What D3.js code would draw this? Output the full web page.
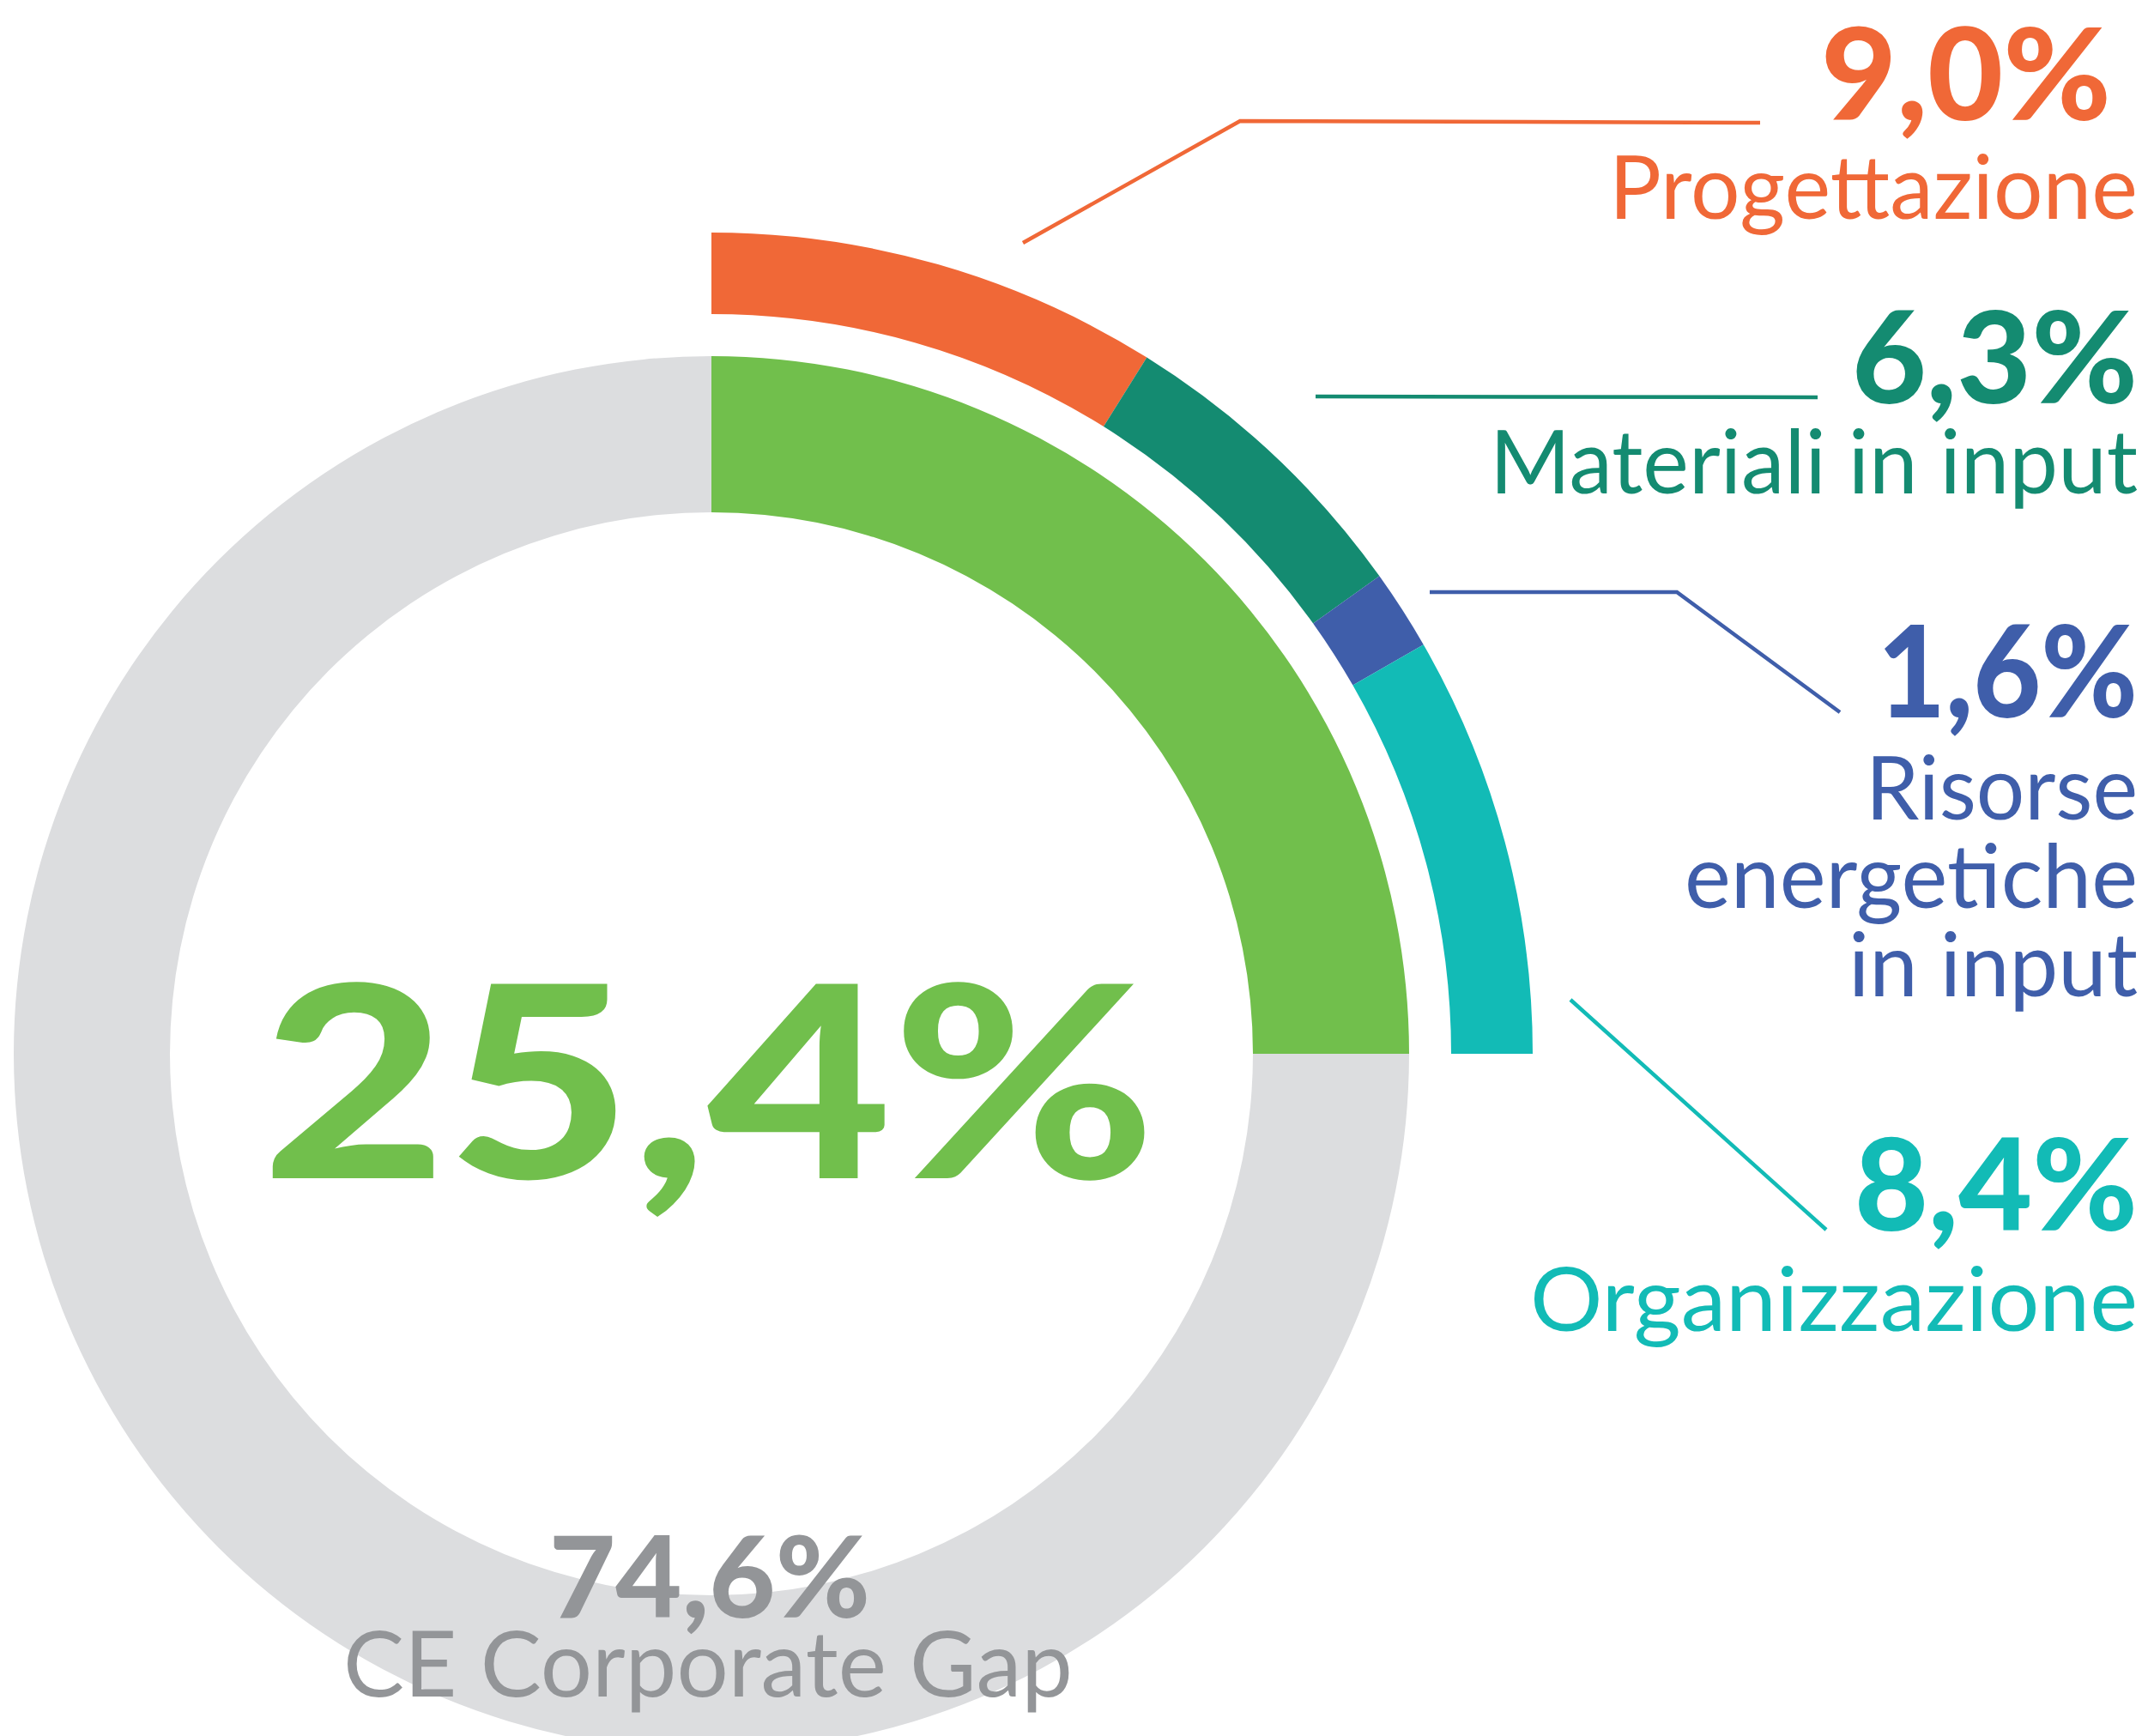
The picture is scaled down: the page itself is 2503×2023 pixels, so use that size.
<!DOCTYPE html>
<html>
<head>
<meta charset="utf-8">
<script src="https://cdn.jsdelivr.net/npm/d3@7"></script>
<style>
  html, body { margin: 0; padding: 0; background: #ffffff; }
  svg { display: block; }
</style>
</head>
<body>
<script>
// ---------- DATA ----------
const categories = ["Progettazione", "Materiali in input", "Risorse energetiche in input", "Organizzazione"];
const categoryValues = [9.0, 6.3, 1.6, 8.4];
const categoryColors = ["#F06837", "#148B71", "#3F5EAA", "#12BBB6"];
const totalValue = 25.4;          // CE corporate score
const gapValue = 74.6;            // CE corporate gap
const gapLabel = "CE Corporate Gap";
const totalColor = "#71BF4C";
const gapColor = "#DCDDDF";
const gapTextColor = "#939598";

// ---------- LAYOUT ----------
const W = 2503, H = 2023;
const cx = 829, cy = 1228;
const innerR0 = 631, innerR1 = 813;   // main ring
const outerR0 = 862, outerR1 = 957;   // breakdown ring

// label layout for each category (right aligned block)
const labelLayout = [
  { numX: 2460, numY: 140, numW: 338, lines: [{ y: 255, w: 616 }],
    leader: [[363, -945], [616, -1087], [1222, -1085]] },
  { numX: 2491, numY: 470, numW: 333, lines: [{ y: 575, w: 755 }],
    leader: [[704, -766], [1289, -765]] },
  { numX: 2491, numY: 836, numW: 303, lines: [{ y: 955, w: 317 }, { y: 1058, w: 528 }, { y: 1161, w: 337 }],
    leader: [[837, -538], [1125, -538], [1315, -398]] },
  { numX: 2491, numY: 1434, numW: 330, lines: [{ y: 1551, w: 708 }],
    leader: [[1001, -63], [1299, 205]] }
];
const labelLines = [["Progettazione"], ["Materiali in input"], ["Risorse", "energetiche", "in input"], ["Organizzazione"]];

const itLocale = d3.formatLocale({ decimal: ",", thousands: ".", grouping: [3], currency: ["", " €"] });
const fmt = v => itLocale.format(".1f")(v) + "%";

const svg = d3.select("body").append("svg")
  .attr("width", W).attr("height", H)
  .attr("viewBox", `0 0 ${W} ${H}`);

const g = svg.append("g").attr("transform", `translate(${cx},${cy})`);

// angle scale: highlighted share occupies the first quarter
const angle = d3.scaleLinear().domain([0, totalValue]).range([0, Math.PI / 2]);

const innerArc = d3.arc().innerRadius(innerR0).outerRadius(innerR1);

// gap (gray) ring
g.append("path")
  .attr("d", innerArc({ startAngle: angle(totalValue), endAngle: 2 * Math.PI }))
  .attr("fill", gapColor);

// total (green)
g.append("path")
  .attr("d", innerArc({ startAngle: angle(0), endAngle: angle(totalValue) }))
  .attr("fill", totalColor);

// breakdown ring
const pie = d3.pie().sort(null).value(d => d).startAngle(0).endAngle(angle(totalValue));
const outerArc = d3.arc().innerRadius(outerR0).outerRadius(outerR1);
g.selectAll("path.seg")
  .data(pie(categoryValues))
  .join("path")
  .attr("class", "seg")
  .attr("d", outerArc)
  .attr("fill", (d, i) => categoryColors[i]);

// leader lines
const line = d3.line();
g.selectAll("path.leader")
  .data(labelLayout)
  .join("path")
  .attr("class", "leader")
  .attr("d", d => line(d.leader))
  .attr("fill", "none")
  .attr("stroke", (d, i) => categoryColors[i])
  .attr("stroke-width", 4.5);

// category labels
categoryValues.forEach((v, i) => {
  const L = labelLayout[i];
  svg.append("text")
    .attr("x", L.numX).attr("y", L.numY)
    .attr("text-anchor", "end")
    .attr("font-family", "Lato, 'Noto Sans', sans-serif")
    .attr("font-weight", 900)
    .attr("font-size", 148)
    .attr("textLength", L.numW)
    .attr("lengthAdjust", "spacingAndGlyphs")
    .attr("fill", categoryColors[i])
    .text(fmt(v));
  labelLines[i].forEach((t, j) => {
    svg.append("text")
      .attr("x", 2491).attr("y", L.lines[j].y)
      .attr("text-anchor", "end")
      .attr("font-family", "Lato, 'Noto Sans', sans-serif")
      .attr("font-weight", 400)
      .attr("font-size", 103)
      .attr("textLength", L.lines[j].w)
      .attr("lengthAdjust", "spacingAndGlyphs")
      .attr("fill", categoryColors[i])
      .text(t);
  });
});

// central total
svg.append("text")
  .attr("x", 305).attr("y", 1373)
  .attr("font-family", "Lato, 'Noto Sans', sans-serif")
  .attr("font-weight", 900)
  .attr("font-size", 312)
  .attr("textLength", 1042)
  .attr("lengthAdjust", "spacingAndGlyphs")
  .attr("fill", totalColor)
  .text(fmt(totalValue));

// gap labels
svg.append("text")
  .attr("x", 640).attr("y", 1885)
  .attr("font-family", "Lato, 'Noto Sans', sans-serif")
  .attr("font-weight", 900)
  .attr("font-size", 132)
  .attr("textLength", 374)
  .attr("lengthAdjust", "spacingAndGlyphs")
  .attr("fill", gapTextColor)
  .text(fmt(gapValue));

svg.append("text")
  .attr("x", 400).attr("y", 1977)
  .attr("font-family", "Lato, 'Noto Sans', sans-serif")
  .attr("font-weight", 400)
  .attr("font-size", 106)
  .attr("textLength", 850)
  .attr("lengthAdjust", "spacingAndGlyphs")
  .attr("fill", gapTextColor)
  .text(gapLabel);
</script>
</body>
</html>
